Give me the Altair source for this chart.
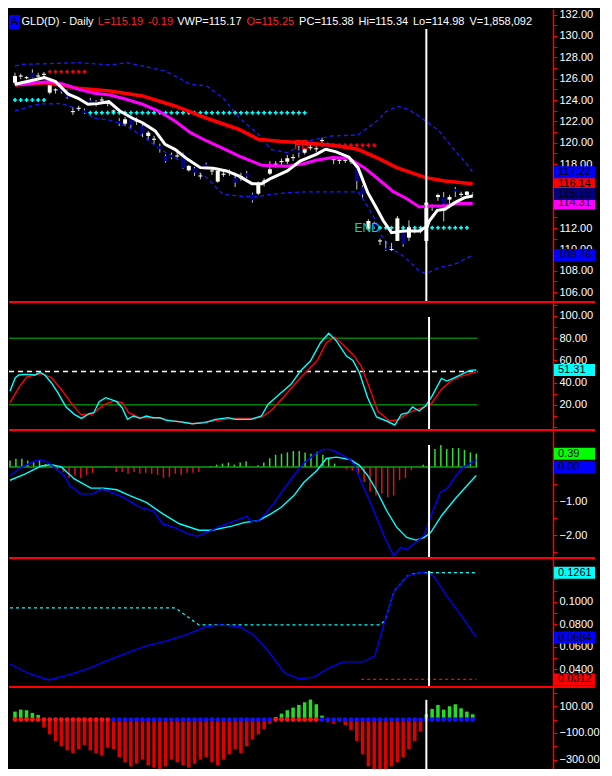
import altair as alt
import pandas as pd

FONT = "Liberation Sans"
W = 544
XDOM = [-0.17, 92.0]

# ---------------- price panel data ----------------
opens = [125.62,126.2,126.04,126.56,126.2,126.36,124.69,124.9,125.16,124.91,
         122.86,123.17,123.03,123.97,123.84,123.95,123.64,122.92,122.03,121.78,
         122.29,121.98,121.57,120.63,120.27,119.69,118.75,118.85,118.7,118.97,
         117.41,117.6,116.83,117.97,117.3,116.35,116.99,117.35,116.66,116.66,
         117.13,115.16,115.22,116.36,117.1,117.93,118.18,118.22,118.55,119.28,
         119.06,119.48,119.38,120.15,119.78,118.36,118.3,118.3,118.23,117.66,
         115.85,111.88,112.4,110.74,110.1,109.93,110.79,111.57,111.1,111.67,
         111.67,110.79,114.02,114.9,114.91,114.66,115.66,115.11,115.1,115.25]
highs = [126.56,126.47,126.25,126.87,126.56,126.62,125.62,125.1,125.3,125.0,
         123.28,123.47,123.2,124.2,124.0,124.3,123.9,123.1,122.3,122.4,
         122.4,122.35,121.72,121.1,120.63,119.91,118.9,119.07,119.38,119.07,
         117.9,117.72,117.19,118.13,117.72,117.66,117.3,117.5,117.19,117.19,
         117.35,115.31,116.35,116.66,118.28,118.28,118.5,118.85,118.91,119.69,
         119.5,119.8,119.6,120.47,120.0,118.75,118.6,118.6,118.5,117.9,
         116.0,112.82,112.6,111.0,110.79,110.6,113.13,111.72,112.72,112.03,
         111.97,114.6,114.23,115.22,115.38,115.1,115.85,115.41,115.47,115.34]
lows = [125.41,125.94,125.94,126.03,126.09,126.16,124.53,124.6,124.6,124.1,
        122.6,122.97,122.7,123.5,123.4,123.7,123.4,122.7,121.56,121.6,
        121.4,121.65,120.53,120.32,119.9,119.07,118.13,118.44,118.6,117.53,
        117.3,116.88,116.57,117.5,116.97,116.25,116.8,116.9,115.85,116.41,
        116.7,114.38,115.1,115.9,116.97,117.66,117.9,117.97,118.28,118.6,
        118.9,119.3,119.1,119.9,119.4,117.98,118.0,118.1,118.0,115.6,
        114.85,111.72,111.9,110.4,109.85,109.85,110.79,110.25,110.79,111.5,
        111.5,110.63,113.6,114.54,112.62,114.23,114.91,114.91,114.91,114.98]
closes = [126.25,126.3,126.14,126.09,126.3,126.46,125.47,125.0,124.78,124.28,
          122.96,123.27,122.78,123.66,123.6,124.05,123.74,123.02,121.78,122.19,
          121.66,122.08,120.85,120.94,120.37,119.38,118.28,118.6,118.8,117.6,
          117.82,117.19,116.93,117.72,117.4,117.35,117.09,117.1,116.25,116.88,
          116.82,114.6,116.16,116.46,117.51,118.03,118.28,118.54,118.65,119.06,
          119.38,119.58,119.48,120.25,119.53,118.46,118.4,118.4,118.33,116.41,
          115.16,112.66,112.1,110.84,109.95,110.03,112.91,110.48,112.03,111.77,
          111.77,114.38,114.12,115.1,114.23,114.91,115.41,115.21,115.41,115.19]

red_x = [0,5.3,10.9,16.4,22,27.6,33.1,38.6,42,46,49.8,54.8,59.2,63.1,65.9,70.9,74.2,79]
red_v = [125.41,125.62,125.10,124.85,124.38,123.44,122.29,121.26,120.32,120.1,120.0,
         119.76,119.38,118.44,117.66,116.72,116.41,116.14]
mag_x = [0,5.5,8.1,11,13.7,16.4,19.2,22,24.8,27.6,30.3,33.1,35.9,38.7,42.6,47,49.8,52,
         54.8,57.6,60.3,63.1,65.3,67.5,69.8,71.4,74.2,76.4,79]
mag_v = [125.41,125.72,125.53,125.0,124.63,124.47,124.07,123.6,122.97,122.03,120.94,
         120.16,119.47,118.75,117.88,117.79,118.03,118.35,118.6,118.54,117.66,116.41,
         115.41,114.79,113.97,114.07,114.07,114.3,114.31]
wht_x = [0,3.1,5.1,7,9.2,10.9,12.6,14.2,16.2,18.1,20.3,22,24.2,25.9,27.6,29.8,32,34.2,
         36.5,38.6,40.9,42.6,44.2,47,49.2,52,53.6,55.3,57.6,59.2,60.9,62.5,63.6,65,67,
         69.8,71.2,71.5,72.9,74.2,75.9,77.6,79]
wht_v = [125.47,125.85,126.1,125.72,124.54,124.16,123.6,123.66,123.84,122.97,122.29,
         121.87,121.1,119.85,119.38,118.44,117.66,117.6,117.35,116.88,116.16,116.16,
         116.66,117.35,118.28,118.91,119.38,119.16,118.66,117.66,115.31,113.76,112.66,
         111.57,111.72,111.72,112.19,112.66,113.66,113.76,114.38,114.85,115.0]
up_x = [0,1.5,5.3,11,16.4,19.2,22,25.9,27.6,30.3,33.1,35.9,38.7,42,44.2,47,51,54.8,59.2,
        60.9,62.5,64,66,68,70.9,73.2,75.5,77.8,79]
up_v = [127.2,127.35,127.4,127.5,127.28,127.5,127.19,126.72,126.25,125.47,125.31,124.22,
        122.34,120.79,119.38,119.06,120.22,120.63,120.72,121.41,122.03,122.9,123.4,
        123.1,122.03,121.1,119.53,118.13,117.22]
lo_x = [0,4.2,8,11,13.7,16.4,19.2,22,24.8,27.6,30.3,33.1,35.9,38.7,41.5,44.2,47,49.8,55,
        59.2,60.3,62,63.1,64.8,67,69.8,70.9,73.2,75.9,79]
lo_v = [122.97,123.63,123.66,123.13,122.29,122.1,121.56,120.63,119.47,118.6,117.66,
        116.72,115.16,115.0,114.91,115.16,115.31,115.38,115.38,115.38,114.54,112.97,
        111.41,110.16,109.38,107.97,107.72,108.28,108.6,109.46]

cyan_dot_bars = list(range(0, 6)) + list(range(13, 51)) + list(range(63, 79))
cyan_dot_lvls = [124.0] * 6 + [122.81] * 38 + [112.03] * 16
red_dot_bars = list(range(6, 13)) + list(range(51, 63))
red_dot_lvls = [126.65] * 7 + [119.76] * 12

# ---------------- stochastic ----------------
k_x = [0,0.9,1.5,2.6,4.2,5.1,5.9,7,8.1,9.5,10.9,12.1,13.4,14.2,15.1,16.2,18.1,19,19.9,
       20.9,22,23.1,24.2,25.4,26.5,28.7,30.9,33.1,34.8,37,38.1,40.9,42.6,43.7,45.3,47.6,
       49.2,50.9,52.6,54,55.3,57,58.1,59.2,60.6,62.1,63.8,65.2,66.3,67.4,68.2,69.3,70.4,
       71.5,73.1,74,75.1,76.5,77.9,79]
k_v = [32.4,44.4,46.8,47.4,46.8,49.2,46.8,39.9,30.9,18,11.4,7.8,12,12.9,22.8,26.4,22.8,
       17.4,6.9,9.9,7.8,9.9,8.4,8.4,6,4.8,3,3.9,6.9,8.4,6.9,6.9,9.9,20.4,27.9,38.4,50.4,
       59.4,75.9,84.4,77.5,63.9,60,48.9,26.4,9,5.4,1.8,11.4,12.9,18,14.4,18.9,27.9,43.8,
       41.4,43.8,47.4,51,51.31]
d_x = [0,1.5,2.8,4.2,5.3,7,8.7,10.3,12,13.9,16,17.6,19,20.1,22,25,27.7,30.9,34.2,37.6,
       40.9,42.6,44.2,46.5,49.2,52,53.6,55,56.4,58.1,59.5,60.9,62.3,64.3,65.9,67.6,69.8,
       71.3,73.2,74.9,76.5,79]
d_v = [21.9,35.4,45,46.8,48,44.4,33.9,21.9,11.4,11.4,20.4,23.4,21.9,12.9,8.4,8.4,5.4,3,
       5.4,7.8,7.8,9,14.4,27.9,44.4,59.4,75.9,81,74.4,65.4,54.9,35.4,14.4,5.4,6.9,12.9,
       17.4,20.4,34.8,42,45.9,49.8]

# ---------------- MACD ----------------
macd_x = [0,2,3.7,5.1,6.5,8.1,9.2,10.1,12,14,15.6,17.6,19.2,20.6,22,24.2,25.9,28.1,29.8,
          31.7,33.7,35.3,37,38.7,40.1,40.9,42,43.1,44.8,46.5,48.1,49.8,51.4,53.1,54.2,
          55.9,57.6,58.4,59.5,60.9,62.3,63.6,65,66.2,67.2,68.7,70.1,71.3,72.9,74,75.4,
          76.8,79]
macd_v = [-0.25,0,0.14,0.22,0.14,-0.1,-0.25,-0.54,-0.79,-0.79,-0.65,-0.77,-0.89,-1.04,
          -1.19,-1.28,-1.67,-1.8,-1.94,-2.04,-1.9,-1.77,-1.65,-1.55,-1.45,-1.61,-1.58,
          -1.41,-1.04,-0.62,-0.25,0.12,0.34,0.52,0.52,0.39,0.22,0.05,-0.44,-0.98,-1.57,
          -2.12,-2.61,-2.36,-2.43,-2.22,-2.02,-1.45,-0.74,-0.65,-0.29,0,0.2]
sig_x = [0,2.6,5.3,7,8.7,10.9,13.7,15.9,18.1,20.3,23.1,25.9,28.7,32,34.2,37.6,39.8,42,
         44.2,45.9,48.1,49.8,52,53.6,55.3,57.6,59.2,60.6,62.1,63.8,65.5,67.2,68.8,70.2,
         71.3,73.2,75.4,77.4,79]
sig_v = [-0.39,-0.2,0.03,0.07,0,-0.35,-0.62,-0.62,-0.67,-0.84,-1.04,-1.38,-1.67,-1.86,
         -1.86,-1.74,-1.63,-1.58,-1.38,-1.19,-0.84,-0.45,-0.1,0.25,0.29,0.22,0.05,-0.25,
         -0.69,-1.28,-1.77,-2.07,-2.15,-2.07,-1.92,-1.41,-0.94,-0.55,-0.25]
hist = [0.19,0.24,0.24,0.19,0.14,0.19,0.09,0.01,-0.1,-0.15,
        -0.32,-0.25,-0.32,-0.23,-0.17,-0.01,0.02,0.0,-0.15,-0.15,
        -0.2,-0.15,-0.2,-0.17,-0.2,-0.23,-0.32,-0.29,-0.2,-0.23,
        -0.17,-0.17,-0.15,-0.01,0.03,0.07,0.1,0.13,0.07,0.13,
        0.17,0.0,0.05,0.13,0.26,0.36,0.39,0.43,0.47,0.47,
        0.43,0.39,0.45,0.36,0.25,0.1,0.0,-0.07,-0.1,-0.2,
        -0.44,-0.72,-0.84,-0.79,-0.89,-0.84,-0.39,-0.32,-0.1,0.0,
        0.07,0.42,0.53,0.65,0.53,0.56,0.56,0.5,0.43,0.39]

# ---------------- panel 4 ----------------
p4_x = [0,3,6.5,9.8,13,16.4,19.8,23.1,26.4,29.8,33.1,35.6,39,41.5,44,46.5,49,51.5,54,
        56.4,59.8,61.8,63.5,65.1,67.3,69.8,71.8,74,76.5,79]
p4_v = [0.0449,0.0369,0.0307,0.0351,0.0404,0.0476,0.0547,0.0609,0.0653,0.0707,0.0778,
        0.0796,0.0778,0.0698,0.0547,0.0369,0.0316,0.0333,0.0413,0.0467,0.0467,0.052,
        0.0831,0.1098,0.1231,0.1267,0.1231,0.1053,0.0876,0.0684]
c4_x = [0,28,32,62.5,63.5,65.1,67.3,69,79]
c4_v = [0.0947,0.0947,0.0796,0.0796,0.0831,0.1098,0.1231,0.1261,0.1261]
r4_x = [59.5,79]
r4_v = [0.0312,0.0312]

# ---------------- panel 5 ----------------
p5 = [60,75,70,50,35,
      -60,-110,-160,-200,-230,-250,-220,-190,-230,-250,-270,-210,
      -220,-280,-320,-350,-330,-300,-340,-360,-370,-350,-300,-320,-340,-360,-330,-300,
      -280,-320,-340,-300,-260,-220,-250,-200,-150,-110,-70,-30,
      20,45,70,90,110,130,150,115,
      30,-20,-30,-15,-40,-80,
      -160,-260,-350,-380,-380,-370,-350,-320,-280,-220,-160,-90,
      40,80,110,75,100,115,85,60,40]
p5_dots = ["r"] * 17 + ["b"] * 28 + ["r"] * 8 + ["b"] * 27

header_txt = ["GLD(D) - Daily", "L=115.19", "-0.19", "VWP=115.17", "O=115.25",
              "PC=115.38", "Hi=115.34", "Lo=114.98", "V=1,858,092"]
header_px = [12.5, 88.7, 139, 168.2, 237.4, 290.1, 349.5, 404, 460.4]
header_col = ["#ffffff", "#ff2020", "#ff2020", "#ffffff", "#ff2020",
              "#ffffff", "#ffffff", "#ffffff", "#ffffff"]

VBAR = 71

# ---------------- helpers ----------------
def X(field="x"):
    return alt.X(f"{field}:Q", scale=alt.Scale(domain=XDOM, nice=False, zero=False), axis=None)

def make_axis(values, expr):
    return alt.Axis(orient="right", values=values, labelExpr=expr, grid=False,
                    domainColor="#ff0000", domainWidth=1.5, tickColor="#ff0000", tickSize=4,
                    labelColor="#ffffff", labelFont=FONT, labelFontSize=11, labelPadding=2,
                    labelFlush=False, labelOverlap=False, labelBound=False, title=None)

class Panel:
    def __init__(self, dom, h, axis):
        self.dom, self.h, self.axis, self.layers = dom, h, axis, []

    def Y(self, field):
        return alt.Y(f"{field}:Q", scale=alt.Scale(domain=self.dom, nice=False, zero=False),
                     axis=self.axis)

    def line(self, xs, vs, color, width, dash=None):
        df = pd.DataFrame({"x": xs, "v": vs})
        kw = dict(color=color, strokeWidth=width, clip=True)
        if dash:
            kw["strokeDash"] = dash
        self.layers.append(alt.Chart(df).mark_line(**kw).encode(x=X(), y=self.Y("v")))

    def hline(self, val, color, width, dash=None):
        df = pd.DataFrame({"x0": [-0.17], "x1": [79.2], "v": [val]})
        kw = dict(color=color, strokeWidth=width, clip=True)
        if dash:
            kw["strokeDash"] = dash
        self.layers.append(alt.Chart(df).mark_rule(**kw).encode(
            x=X("x0"), x2="x1:Q", y=self.Y("v")))

    def vline(self, top):
        df = pd.DataFrame({"x": [VBAR], "t": [top], "b": [self.dom[0]]})
        self.layers.append(alt.Chart(df).mark_rule(color="#ffffff", strokeWidth=2, clip=True).encode(
            x=X(), y=self.Y("t"), y2="b:Q"))

    def separator(self):
        df = pd.DataFrame({"v": [self.dom[1]]})
        self.layers.append(alt.Chart(df).mark_rule(color="#ff0000", strokeWidth=2).encode(
            x=alt.value(0), x2=alt.value(W + 42), y=alt.value(1)))

    def flags(self, rows):
        half = 6.0 * (self.dom[1] - self.dom[0]) / self.h
        for v, lab, bg in rows:
            df = pd.DataFrame({"v": [v], "t": [v + half], "b": [v - half], "lab": [lab]})
            self.layers.append(alt.Chart(df).mark_rect(color=bg).encode(
                x=alt.value(W + 1), x2=alt.value(W + 42), y=self.Y("t"), y2="b:Q"))
            self.layers.append(alt.Chart(df).mark_text(
                align="left", baseline="middle", font=FONT, fontSize=11, color="#000000").encode(
                x=alt.value(W + 5), y=self.Y("v"), text="lab:N"))

    def chart(self):
        return alt.layer(*self.layers).properties(width=W, height=self.h)

# ---------------- panel 1: price ----------------
P1 = Panel([105.16, 132.53], 292,
           make_axis(list(range(106, 133)),
                     "datum.value % 2 == 0 && datum.value != 116 && datum.value != 114 ? format(datum.value, '.2f') : ''"))
cdf = pd.DataFrame({"x": list(range(80)), "o": opens, "h": highs, "l": lows, "c": closes})
up_df = cdf[cdf["c"] >= cdf["o"]]
dn_df = cdf[cdf["c"] < cdf["o"]]

P1.line(up_x, up_v, "#1a1aff", 1.3, [4, 3])
P1.line(lo_x, lo_v, "#1a1aff", 1.3, [4, 3])
P1.layers.append(alt.Chart(pd.DataFrame({"x": cyan_dot_bars, "v": cyan_dot_lvls})).mark_point(
    shape="cross", filled=True, size=16, color="#00ffff", opacity=1, clip=True).encode(x=X(), y=P1.Y("v")))
P1.layers.append(alt.Chart(pd.DataFrame({"x": red_dot_bars, "v": red_dot_lvls})).mark_point(
    shape="cross", filled=True, size=16, color="#ff0000", opacity=1, clip=True).encode(x=X(), y=P1.Y("v")))
P1.layers.append(alt.Chart(cdf).mark_rule(color="#c8c8c8", strokeWidth=1, clip=True).encode(
    x=X(), y=P1.Y("l"), y2="h:Q"))
P1.layers.append(alt.Chart(up_df).mark_bar(size=4, color="#fffff4", clip=True).encode(
    x=X(), y=P1.Y("o"), y2="c:Q"))
P1.layers.append(alt.Chart(dn_df).mark_bar(size=4, color="#00008b", clip=True).encode(
    x=X(), y=P1.Y("o"), y2="c:Q"))
P1.line(red_x, red_v, "#ff0000", 3.5)
P1.line(mag_x, mag_v, "#ff00ff", 3)
P1.line(wht_x, wht_v, "#ffffff", 3)
for tx, bx, bv, col in [("FB", 48.1, 119.76, "#ff1010"), ("END", 58.6, 112.03, "#00d0d0")]:
    P1.layers.append(alt.Chart(pd.DataFrame({"x": [bx], "v": [bv], "t": [tx]})).mark_text(
        align="left", baseline="middle", font=FONT, fontSize=12, color=col).encode(
        x=X(), y=P1.Y("v"), text="t:N"))
P1.vline(130.66)
abox_df = pd.DataFrame({"t": ["A"]})
P1.layers.append(alt.Chart(abox_df).mark_rect(color="#0000ff").encode(
    x=alt.value(0), x2=alt.value(11), y=alt.value(6), y2=alt.value(20)))
P1.layers.append(alt.Chart(abox_df).mark_text(
    align="center", baseline="middle", font=FONT, fontSize=11, color="#000000").encode(
    x=alt.value(5.5), y=alt.value(13), text="t:N"))
for t, px, col in zip(header_txt, header_px, header_col):
    P1.layers.append(alt.Chart(pd.DataFrame({"t": [t]})).mark_text(
        align="left", baseline="middle", font=FONT, fontSize=11, color=col).encode(
        x=alt.value(px), y=alt.value(13), text="t:N"))
P1.flags([(109.46, "109.46", "#0000ff"), (114.31, "114.31", "#ff00ff"),
          (116.14, "116.14", "#ff0000"), (117.22, "117.22", "#0000ff"),
          (115.19, "115.19", "#000080")])

# ---------------- panel 2: stochastic ----------------
P2 = Panel([-1.8, 113.5], 128,
           make_axis(list(range(0, 111, 10)),
                     "datum.value % 20 == 0 && datum.value > 0 ? format(datum.value, '.2f') : ''"))
P2.separator()
P2.hline(80, "#008000", 1.5)
P2.hline(20, "#008000", 1.5)
P2.hline(50, "#ffffff", 1.5, [5, 4])
P2.line(d_x, d_v, "#ff0000", 1.4)
P2.line(k_x, k_v, "#00ffff", 1.4)
P2.vline(99.1)
P2.flags([(51.31, "51.31", "#00ffff")])

# ---------------- panel 3: MACD ----------------
P3 = Panel([-2.647, 1.118], 128,
           make_axis([-2.5, -2, -1.5, -1, -0.5, 0, 0.5],
                     "datum.value % 1 == 0 && datum.value != 0 ? format(datum.value, '.2f') : ''"))
P3.separator()
hdf = pd.DataFrame({"x": list(range(80)), "z": [0.0] * 80, "v": hist})
for sel, col in [((hdf["v"] >= 0) & (hdf["x"] != VBAR), "#33dd33"),
                 ((hdf["v"] < 0) & (hdf["x"] != VBAR), "#dd1111"),
                 (hdf["x"] == VBAR, "#ff00ff")]:
    P3.layers.append(alt.Chart(hdf[sel]).mark_rule(strokeWidth=1.5, color=col, clip=True).encode(
        x=X(), y=P3.Y("z"), y2="v:Q"))
P3.hline(0, "#10a010", 1.5)
P3.line(sig_x, sig_v, "#00ffff", 1.4)
P3.line(macd_x, macd_v, "#0000ff", 1.4)
P3.vline(0.647)
P3.flags([(0.39, "0.39", "#00ff00"), (0.0, "0.00", "#0000ff")])

# ---------------- panel 4 ----------------
P4 = Panel([0.02533, 0.14], 129,
           make_axis([0.03, 0.04, 0.05, 0.06, 0.07, 0.08, 0.09, 0.10, 0.11, 0.12, 0.13],
                     "round(datum.value * 100) % 2 == 0 && round(datum.value * 100) != 12 ? format(datum.value, '.4f') : ''"))
P4.separator()
P4.line(c4_x, c4_v, "#00ffff", 1.2, [3, 3])
P4.line(r4_x, r4_v, "#ff0000", 1.2, [3, 3])
P4.line(p4_x, p4_v, "#0000ff", 1.3)
P4.vline(0.1276)
P4.flags([(0.1261, "0.1261", "#00ffff"), (0.0684, "0.0684", "#0000ff"),
          (0.0312, "0.0312", "#ff0000")])

# ---------------- panel 5 ----------------
P5 = Panel([-370.0, 251.7], 83,
           make_axis([-300, -200, -100, 0, 100, 200],
                     "(datum.value == 100 || datum.value == -100 || datum.value == -300) ? format(datum.value, '.2f') : ''"))
P5.separator()
edf = pd.DataFrame({"x": list(range(80)), "z": [0.0] * 80, "v": p5, "d": p5_dots})
P5.layers.append(alt.Chart(edf[edf["v"] >= 0]).mark_bar(size=3.5, color="#22dd22", clip=True).encode(
    x=X(), y=P5.Y("z"), y2="v:Q"))
P5.layers.append(alt.Chart(edf[edf["v"] < 0]).mark_bar(size=3.5, color="#dd0000", clip=True).encode(
    x=X(), y=P5.Y("z"), y2="v:Q"))
P5.layers.append(alt.Chart(edf[edf["d"] == "r"]).mark_circle(size=24, opacity=1, color="#ff1010", clip=True).encode(
    x=X(), y=P5.Y("z")))
P5.layers.append(alt.Chart(edf[edf["d"] == "b"]).mark_circle(size=24, opacity=1, color="#1010ff", clip=True).encode(
    x=X(), y=P5.Y("z")))
P5.vline(148)

chart = alt.vconcat(P1.chart(), P2.chart(), P3.chart(), P4.chart(), P5.chart(),
                    spacing=0, bounds="flush").properties(
    background="#000000", padding=0
).configure_view(stroke=None)

chart.save("out.html", embed_options={"renderer": "svg", "actions": False})
